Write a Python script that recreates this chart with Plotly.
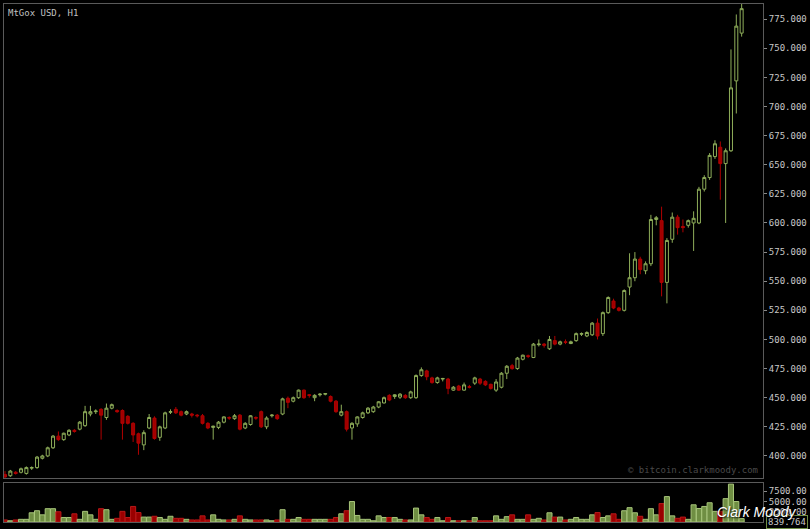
import plotly.graph_objects as go
from plotly.subplots import make_subplots

# hourly MtGox candles
opens = [384, 383, 386, 386, 385, 389.5, 390, 398, 400, 407,
         417, 414, 418, 422, 423, 426, 436, 438, 440, 433,
         441, 439, 439, 434, 428, 419, 409.5, 424, 432.5, 416,
         424, 437.5, 440, 438, 436, 436, 435, 434.5, 428, 424.5,
         424.5, 429, 433, 432, 435, 424, 427, 433, 438, 425,
         434.5, 435, 436, 449.5, 447, 450, 456.5, 452.5, 450, 452.5,
         453, 451, 447, 435, 438, 424, 427.5, 433, 437, 438,
         442, 445.5, 452, 451, 450.5, 452, 450, 450, 469, 473,
         467, 463, 466, 466, 456.5, 460, 456.5, 459.5, 462.5, 466,
         464, 461.5, 456.5, 459, 471, 477.5, 475, 483, 486, 484.5,
         495.5, 496, 492, 499, 496, 498, 496.5, 499, 504.5, 503,
         504, 514, 505, 523, 533, 527, 525, 545, 553, 569,
         559, 565, 603, 602, 549, 586, 605, 597, 598, 600,
         600, 629, 639, 657, 665, 651, 662, 722, 763]
highs = [387, 388, 387, 390, 391, 391, 400, 401, 408, 418,
         421, 420, 423, 423, 430, 443, 443, 440, 441, 445,
         445, 440, 440, 435, 429, 420, 422, 436, 434, 426,
         438, 440, 442, 439, 439, 437, 436, 436, 429, 426,
         430, 434, 434, 436, 436, 429, 435, 434, 439, 434,
         436, 436, 450, 451, 451, 457, 457, 453, 453, 454,
         454, 452, 448, 444, 439, 429, 434, 438, 442, 443,
         447, 451, 453, 453, 454, 453, 456, 470, 476, 474,
         468, 468, 467, 467, 460, 461, 463, 461, 468, 467,
         465, 462, 466, 472, 478, 479, 485, 487, 487, 497,
         500, 497, 503, 503, 499, 500, 499, 506, 506, 507,
         515, 518, 524, 537, 535, 528, 543, 574, 575, 571,
         567, 607, 606, 614, 587, 609, 607, 603, 603, 610,
         631, 641, 660, 671, 670, 664, 749, 779, 788]
lows = [381, 382, 384, 385, 384, 388, 389, 397, 399, 406,
        413, 413, 417, 420, 422, 425, 434, 436, 414, 431,
        440, 437, 414, 427, 412, 401, 405, 423, 414, 413,
        423, 436, 436, 434, 435, 433, 433, 427, 423, 414,
        423, 428, 431, 431, 422, 423, 426, 431, 424, 423,
        433, 431, 435, 441, 446, 449, 449, 450, 447, 451,
        452, 446, 437, 434, 421, 414, 425, 432, 436, 437,
        441, 445, 447, 449, 449, 449, 449, 449, 468, 465,
        462, 462, 464, 453, 456, 456, 456, 458, 461, 461,
        460, 457, 455, 458, 466, 474, 474, 482, 484, 484,
        494, 493, 491, 495, 495, 496, 496, 498, 503, 502,
        503, 500, 503, 522, 526, 524, 524, 538, 550, 556,
        556, 563, 598, 537, 531, 583, 590, 592, 596, 576,
        599, 627, 637, 655, 620, 600, 661, 694, 760]
closes = [382, 387, 385, 389, 390, 390, 399, 400, 407, 417,
          414, 419.5, 422, 421, 429, 438, 438, 438.5, 435, 441,
          444, 438, 428, 428, 418, 411, 420, 433, 415, 425,
          437, 438, 437, 435, 438, 435, 434.5, 428, 424, 425.5,
          429, 433.5, 432.5, 434.5, 423, 428, 434.5, 432.5, 425, 432.5,
          435, 432, 449, 446, 450, 456.5, 450, 452, 452, 453,
          453.5, 447, 438, 438, 423, 428, 433.5, 437, 441, 442,
          446.5, 450, 448, 452.5, 453, 450, 455, 469, 474, 468,
          463, 467, 466.5, 458, 459, 456.5, 461, 459, 467, 462.5,
          461, 458, 463.5, 471, 477, 475, 484, 486.5, 485.5, 496,
          496, 495, 500, 496, 498, 497.5, 498, 505, 505, 506,
          514, 503, 523, 536, 527, 525, 542, 553, 569, 560,
          565, 603, 604.5, 549, 585, 605, 596, 596, 602, 604,
          629, 639, 658, 668, 651, 662, 716, 769, 784]
volumes = [500, 300, 500, 650, 650, 2250, 2750, 1750, 3250, 3250,
           2500, 1100, 1100, 2000, 650, 2600, 1750, 650, 3250, 3000,
           650, 900, 2600, 1100, 3800, 2300, 1200, 1200, 1400, 1100,
           650, 1400, 900, 900, 650, 500, 500, 1500, 500, 1750,
           650, 500, 500, 650, 1500, 650, 500, 500, 500, 500,
           300, 500, 3000, 650, 650, 1100, 650, 650, 650, 650,
           650, 650, 1100, 2000, 2750, 5000, 1600, 650, 650, 300,
           1500, 1100, 1100, 1100, 650, 500, 500, 3400, 1750, 1100,
           650, 1100, 300, 1100, 300, 300, 300, 300, 1100, 300,
           300, 300, 1500, 650, 1300, 1750, 650, 650, 1750, 650,
           900, 500, 2250, 1200, 1200, 500, 650, 1100, 650, 650,
           1750, 2300, 1100, 1500, 2000, 650, 2750, 3500, 2250, 1400,
           650, 3250, 1750, 4500, 6200, 1500, 900, 1200, 650, 4200,
           3300, 3800, 4700, 2600, 2600, 5700, 9250, 5000, 839.764]

price_ticks = list(range(400, 776, 25))
volume_ticks = [2500, 5000, 7500]

x = list(range(len(opens)))

GREEN = '#8fae5a'
RED = '#b00000'
mono = 'DejaVu Sans Mono'

fig = make_subplots(rows=2, cols=1, shared_xaxes=True, vertical_spacing=0,
                    row_heights=[0.92, 0.08])

fig.add_trace(go.Candlestick(
    x=x, open=opens, high=highs, low=lows, close=closes,
    increasing=dict(line=dict(color=GREEN, width=1), fillcolor='#000000'),
    decreasing=dict(line=dict(color=RED, width=1), fillcolor='#a00000'),
    whiskerwidth=0, showlegend=False, hoverinfo='skip'
), row=1, col=1)

up = [c >= o for o, c in zip(opens, closes)]
fig.add_trace(go.Bar(
    x=x, y=volumes,
    marker=dict(color=['#6f8e43' if u else '#9a0000' for u in up],
                line=dict(color=['#a7c57a' if u else '#b81818' for u in up], width=1)),
    showlegend=False, hoverinfo='skip'
), row=2, col=1)

axis_common = dict(showgrid=False, zeroline=False, showline=True, mirror=True,
                   linecolor='#5a5a5a', linewidth=1)

fig.update_xaxes(**axis_common, showticklabels=False, range=[-0.19, 142.0],
                 rangeslider=dict(visible=False))
fig.update_yaxes(**axis_common, side='right', ticks='outside', ticklen=3,
                 tickcolor='#888888',
                 tickfont=dict(family=mono, size=9, color='#c8c8c8'))
fig.update_yaxes(range=[381, 788], tickvals=price_ticks, tickformat='.3f',
                 row=1, col=1)
fig.update_yaxes(range=[0, 9500], tickvals=volume_ticks, tickformat='.2f',
                 row=2, col=1)

fig.update_layout(
    width=810, height=529,
    margin=dict(l=3, r=42, t=3, b=7),
    paper_bgcolor='#000000', plot_bgcolor='#000000',
    bargap=0.05, boxgap=0.2,
    xaxis=dict(domain=[0, 1]),
    yaxis=dict(domain=[0.0848, 1]),
    yaxis2=dict(domain=[0, 0.0751]),
)

fig.add_annotation(text='MtGox USD, H1', xref='paper', yref='paper',
                   x=0.002, y=0.996, xanchor='left', yanchor='top', showarrow=False,
                   font=dict(family=mono, size=9, color='#c0c0c0'))
fig.add_annotation(text='© bitcoin.clarkmoody.com', xref='paper', yref='paper',
                   x=0.996, y=0.1002, xanchor='right', yanchor='middle', showarrow=False,
                   font=dict(family=mono, size=9, color='#4a4a4a'))
fig.add_annotation(text='839.764', xref='paper', yref='paper',
                   x=1.004, y=0.0, xanchor='left', yanchor='middle', showarrow=False,
                   bgcolor='#000000', bordercolor='#6f8e43', borderwidth=1, borderpad=1,
                   font=dict(family=mono, size=9, color='#c8c8c8'))
fig.add_annotation(text='Clark Moody', xref='paper', yref='paper',
                   x=1.047, y=0.019, xanchor='right', yanchor='middle', showarrow=False,
                   font=dict(family='Liberation Sans', size=14, color='#ffffff',
                             style='italic', shadow='1px 1px 2px #000000'))

# page body has a default 8px margin; drop it so the chart sits at the window corner
fig.write_html("out.html", config={'displayModeBar': False},
               post_script="document.body.style.margin='0';document.body.style.background='#000';")
